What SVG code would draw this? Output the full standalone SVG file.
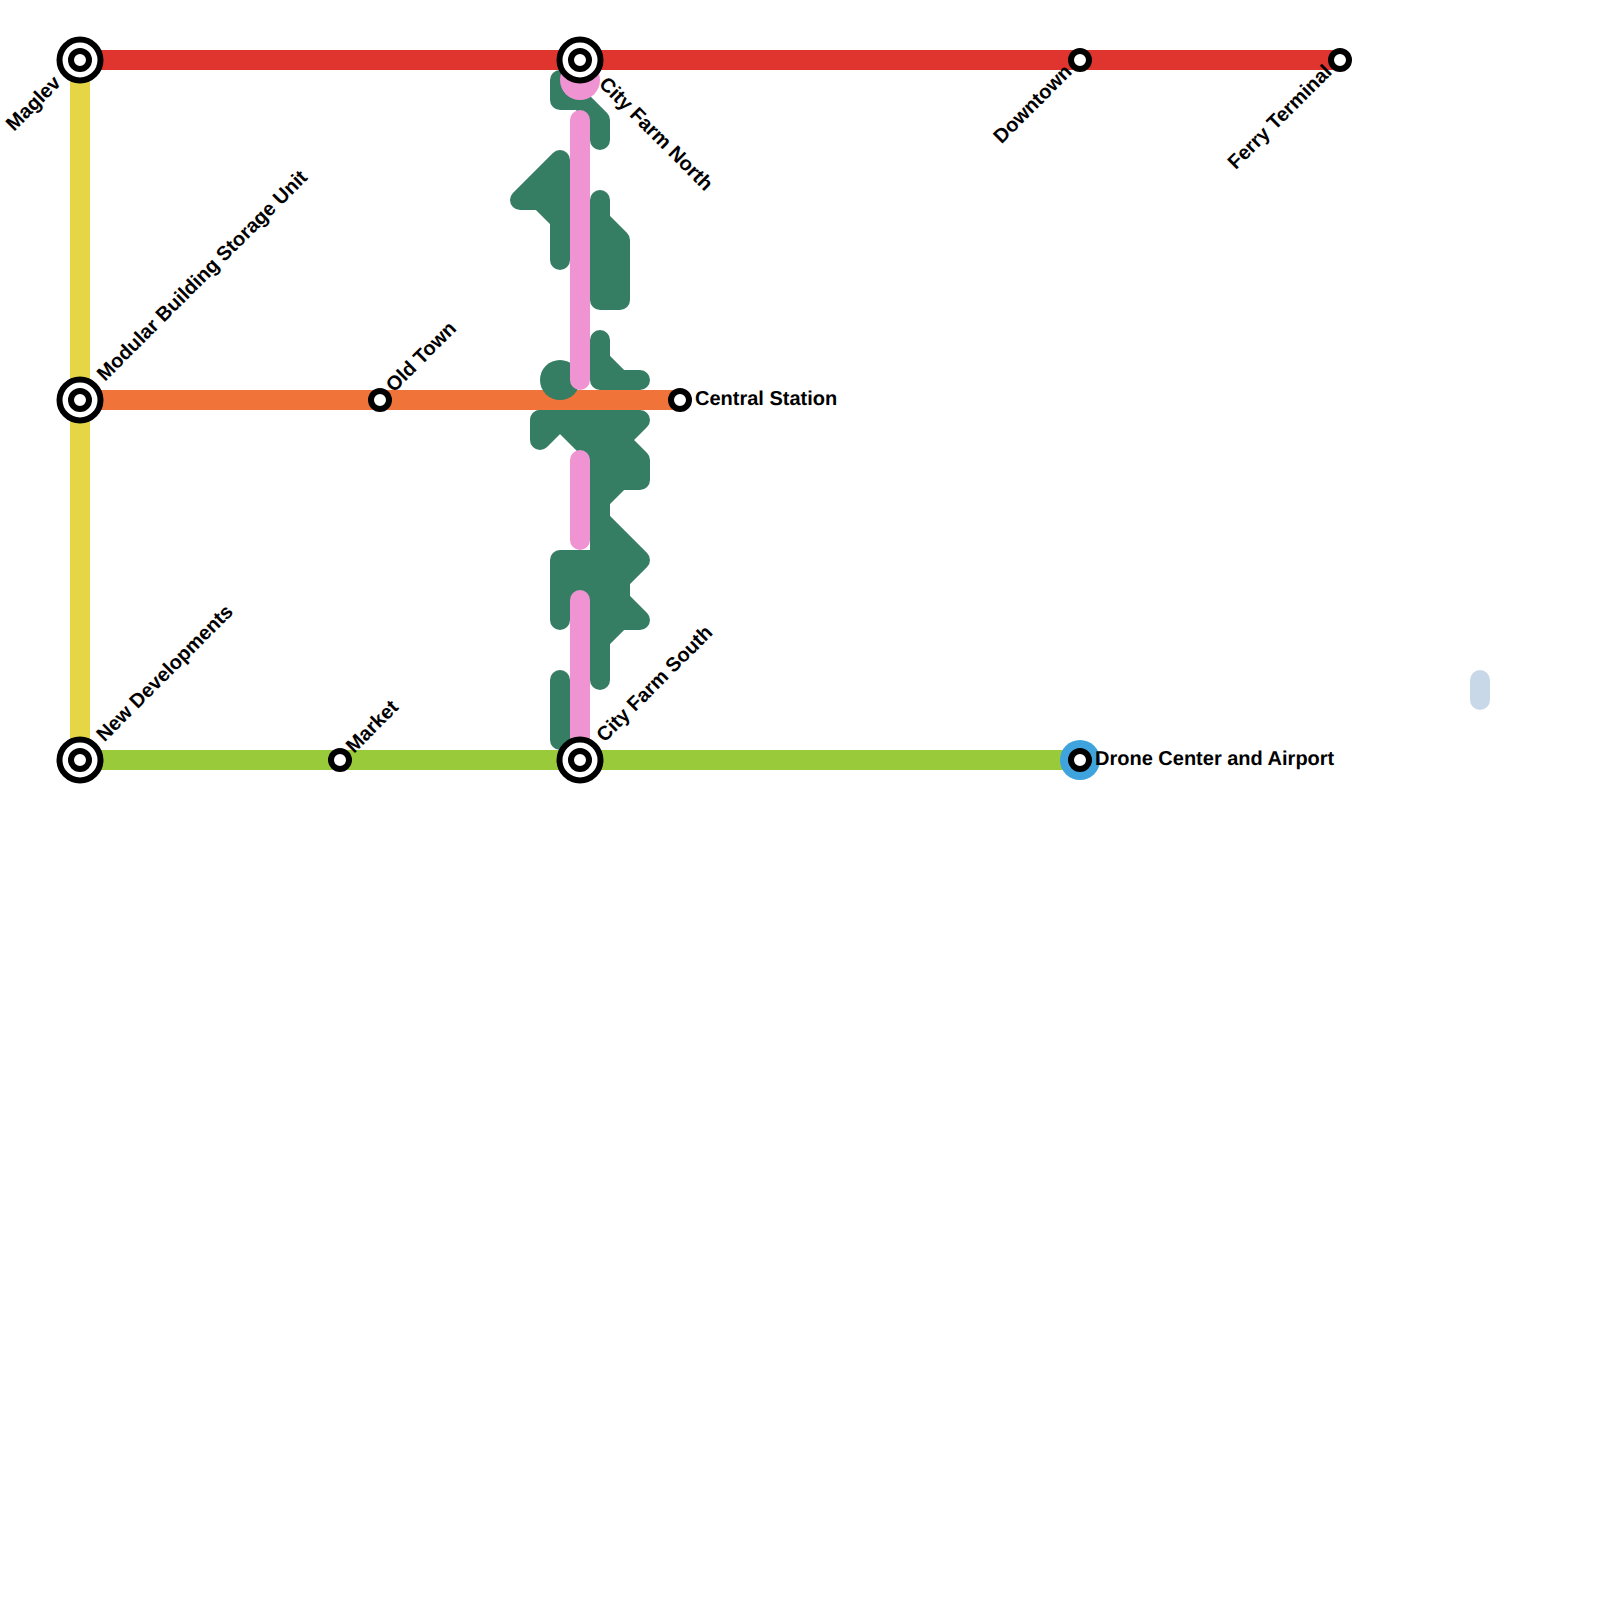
<svg xmlns="http://www.w3.org/2000/svg" width="1600" height="1600" viewBox="0 0 1600 1600">
<style>
.l{fill:none;stroke-width:20;stroke-linecap:round;stroke-linejoin:round}
.b{stroke-linecap:butt}
.g{stroke:#357d63}
.f{fill:#357d63;stroke:#357d63;stroke-width:20;stroke-linejoin:round;stroke-linecap:round}
.p{stroke:#f093d2}
.o{fill:#fff;stroke:#000;stroke-width:6}
text{font-family:"Liberation Sans",Arial,sans-serif;font-weight:bold;font-size:20px;fill:#000;text-rendering:geometricPrecision}
</style>
<rect width="1600" height="1600" fill="#fff"/>
<g id="connectors">
<g id="line-lightblue"><path class="l" stroke="#c9d8e8" d="M1480,680V700"/></g>
<path class="l b" stroke="#f0733a" d="M80,400H680"/>
<g id="line-green">
<path class="l g" d="M560,80V100H580L600,120V140"/>
<path class="f" d="M560,160L520,200H540L560,220V260Z"/>
<path class="f" d="M600,200V220L620,240V300H600Z"/>
<path class="f" d="M600,340V360L620,380H640H600Z"/>
<circle cx="560" cy="380" r="20" fill="#357d63"/>
<path class="f" d="M540,420H640L620,440L640,460V480H620L600,500V520L640,560L620,580V600L640,620H620L600,640V460L560,420Z"/>
<path class="l g" d="M600,560H560V620M580,560V620"/>
<path class="l g" d="M600,640V680"/>
<path class="l g" d="M540,420V440L560,420"/>
<path class="l g" d="M560,680V740H580"/>
</g>
<path class="l p" d="M580,120V380M580,460V540M580,600V750"/>
<circle cx="580" cy="80" r="20" fill="#f093d2"/>
<path class="l b" stroke="#e6d545" d="M80,60V760"/>
<path class="l b" stroke="#e0352f" d="M80,60H1340"/>
<path class="l b" stroke="#99ca3a" d="M80,760H1080"/>
</g>
<g id="maglev"><circle class="o" cx="80" cy="60" r="20.500"/><circle class="o" cx="80" cy="60" r="9"/><text transform="translate(57,79) rotate(-45)" text-anchor="end" dy="7">Maglev</text></g>
<g id="city-farm-north"><circle class="o" cx="580" cy="60" r="20.500"/><circle class="o" cx="580" cy="60" r="9"/><text transform="translate(603,80) rotate(45)" dy="7">City Farm North</text></g>
<g id="downtown"><circle class="o" cx="1080" cy="60" r="9"/><text transform="translate(1068,68) rotate(-45)" text-anchor="end" dy="7">Downtown</text></g>
<g id="ferry-terminal"><circle class="o" cx="1340" cy="60" r="9"/><text transform="translate(1328,68) rotate(-45)" text-anchor="end" dy="7">Ferry Terminal</text></g>
<g id="modular"><circle class="o" cx="80" cy="400" r="20.500"/><circle class="o" cx="80" cy="400" r="9"/><text transform="translate(100,377) rotate(-45)" dy="7">Modular Building Storage Unit</text></g>
<g id="old-town"><circle class="o" cx="380" cy="400" r="9"/><text transform="translate(389,388) rotate(-45)" dy="7">Old Town</text></g>
<g id="central"><circle class="o" cx="680" cy="400" r="9"/><text x="695" y="405">Central Station</text></g>
<g id="new-developments"><circle class="o" cx="80" cy="760" r="20.500"/><circle class="o" cx="80" cy="760" r="9"/><text transform="translate(99.500,737.500) rotate(-45)" dy="7">New Developments</text></g>
<g id="market"><circle class="o" cx="340" cy="760" r="9"/><text transform="translate(349,749) rotate(-45)" dy="7">Market</text></g>
<g id="city-farm-south"><circle class="o" cx="580" cy="760" r="20.500"/><circle class="o" cx="580" cy="760" r="9"/><text transform="translate(599.500,738) rotate(-45)" dy="7">City Farm South</text></g>
<g id="drone"><circle cx="1080" cy="760" r="20" fill="#3fa3dd"/><circle class="o" cx="1080" cy="760" r="9"/><text x="1095" y="765">Drone Center and Airport</text></g>
</svg>
